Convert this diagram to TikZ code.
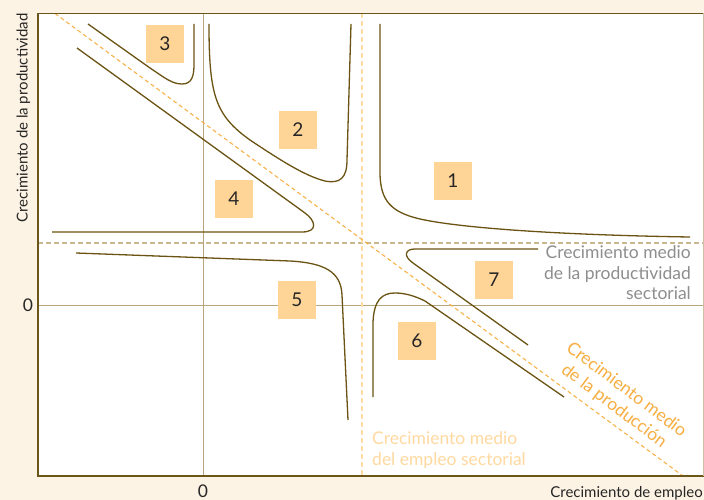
\documentclass[tikz,border=0pt]{standalone}
\usepackage{fontspec}
\setmainfont{Lato}
\definecolor{cream}{HTML}{FDF3E4}
\definecolor{framec}{HTML}{6B561A}
\definecolor{axisc}{HTML}{B9A57E}
\definecolor{curvec}{HTML}{6B5413}
\definecolor{boxfill}{HTML}{FFD597}
\definecolor{dprod}{HTML}{C9B792}
\definecolor{demp}{HTML}{FFDCA5}
\definecolor{dout}{HTML}{F8B24A}
\definecolor{gtext}{HTML}{8E8E8E}
\definecolor{otext}{HTML}{F7AE42}
\definecolor{ltext}{HTML}{FFD9A0}
\begin{document}
\begin{tikzpicture}[x=1pt,y=-1pt,
  numbox/.style={fill=boxfill,minimum size=38pt,inner sep=0pt,text=black!85,font=\fontsize{19}{19}\selectfont},
  curveline/.style={draw=curvec,line width=1.3pt},
  axisline/.style={draw=axisc,line width=1pt},
  lbl/.style={font=\fontsize{17.5}{20.5}\selectfont,inner sep=0pt},
  small/.style={font=\fontsize{15}{18}\selectfont,inner sep=0pt,text=black!85}]
\useasboundingbox (0,0) rectangle (704,500);
\fill[cream] (0,0) rectangle (704,500);
\fill[white] (38,13.5) rectangle (704,476);
% axes
\draw[axisline] (203,13.5) -- (203,476);
\draw[axisline] (38,305) -- (704,305);
% dashed reference lines
\draw[dprod,line width=1.2pt,dash pattern=on 5pt off 3pt] (38,243) -- (704,243);
\draw[demp,line width=1.2pt,dash pattern=on 5pt off 3pt] (362,13.5) -- (362,476);
\draw[dout,line width=1.1pt,dash pattern=on 4pt off 3pt] (55,13.5) -- (683,476);
% frame
\draw[framec,line width=1.8pt] (704,13.5) -- (38,13.5) -- (38,476) -- (704,476);
\draw[axisc!70,line width=0.8pt] (703.6,13.5) -- (703.6,476);
% curves
\draw[curveline] (88,24) -- (150,68) .. controls (165,78) and (172,84) .. (182,84) .. controls (192,84) and (194,76) .. (194,64) -- (194,24);
\draw[curveline] (209,24) .. controls (209,95) and (215,115) .. (250,140) .. controls (280,160) and (305,176) .. (325,181) .. controls (340,184) and (347,178) .. (347,160) -- (351,24);
\draw[curveline] (77,48) -- (305,213) .. controls (316,221) and (318,232) .. (302,232) -- (52,232);
\draw[curveline] (380,24) -- (380,175) .. controls (381,200) and (390,212) .. (420,219) .. controls (460,228) and (560,235) .. (690,237);
\draw[curveline] (538,249) -- (415,249) .. controls (405,249) and (403,256) .. (413,263) -- (528,345);
\draw[curveline] (373,397) -- (373,322) .. controls (374,300) and (382,293) .. (395,293) .. controls (405,293) and (415,296) .. (425,301) -- (564,397);
\draw[curveline] (76,253) -- (290,261) .. controls (325,263) and (341,272) .. (342,295) -- (348,420);
% number boxes
\node[numbox] (n1) at (453,181) {1};
\node[numbox] (n2) at (298,130) {2};
\node[numbox] (n3) at (165,44) {3};
\node[numbox] (n4) at (234,199) {4};
\node[numbox] (n5) at (297,300) {5};
\node[numbox] (n6) at (417,341) {6};
\node[numbox] (n7) at (494,280) {7};
% labels
\node[lbl,text=gtext,align=right,anchor=east] (tprod) at (691,273) {Crecimiento medio\\de la productividad\\sectorial};
\node[lbl,text=ltext,align=left,anchor=west] (temp) at (372,450) {Crecimiento medio\\del empleo sectorial};
\node[lbl,text=otext,align=center,rotate=-37] (tout) at (620,398) {Crecimiento medio\\de la producción};
\node[small,anchor=base east] (xlab) at (703,497) {Crecimiento de empleo};
\node[small,anchor=base east,rotate=90] (ylab) at (27.5,13) {Crecimiento de la productividad};
\node[lbl,text=black!85,anchor=base] (x0) at (203,497) {0};
\node[lbl,text=black!85,anchor=base] (y0) at (28,311) {0};
\end{tikzpicture}
\end{document}
